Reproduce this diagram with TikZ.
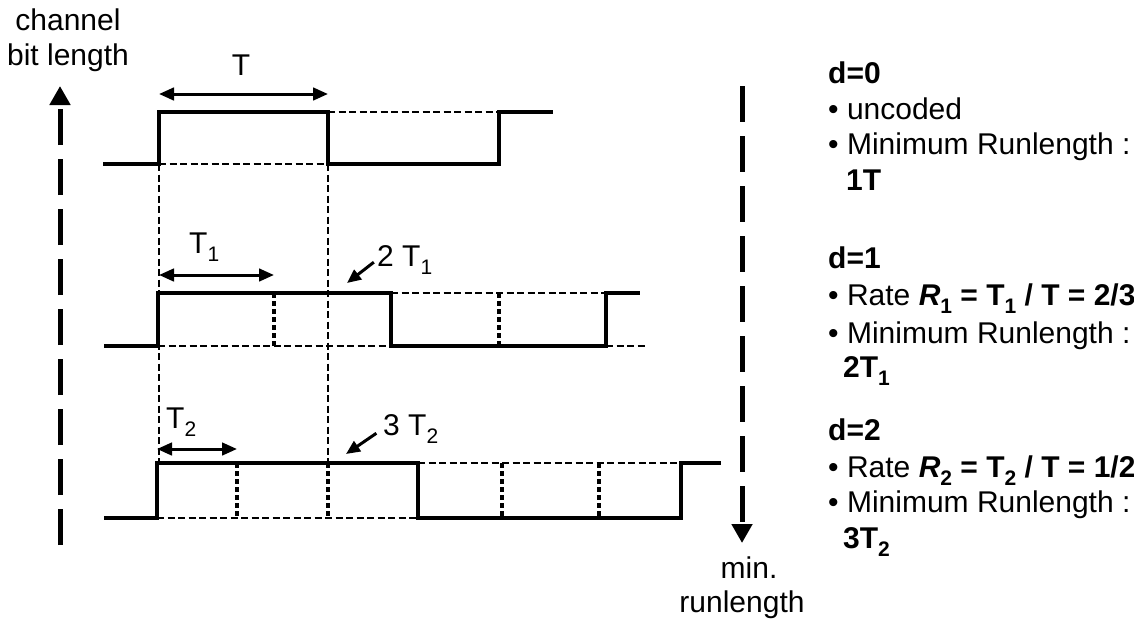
\documentclass[tikz,border=0pt]{standalone}
\usepackage{fontspec}
\setmainfont{Liberation Sans}
\usetikzlibrary{arrows.meta}
\newcommand\lowix[1]{\raisebox{-0.28em}{\fontsize{21}{21}\selectfont #1}}
\begin{document}
\begin{tikzpicture}[x=1pt,y=-1pt,
 every node/.style={inner sep=0pt, font=\fontsize{30}{34}\selectfont},
 wave/.style={line width=4.5pt, line join=miter},
 guide/.style={line width=1.8pt, dash pattern=on 7pt off 3.5pt},
 slot/.style={line width=4.5pt, dash pattern=on 5pt off 3pt},
 span/.style={line width=3pt, {Triangle[length=15pt,width=12.5pt]}-{Triangle[length=15pt,width=12.5pt]}},
 pointer/.style={line width=3pt, -{Triangle[length=14pt,width=12pt]}},
 axis/.style={line width=5pt, dash pattern=on 36pt off 14pt, -{Triangle[length=19pt,width=20pt]}},
 lbl/.style={anchor=base west},
 ctr/.style={anchor=base}]
\useasboundingbox (0,0) rectangle (1134,624);

% axes
\coordinate (la0) at (60,545); \coordinate (la1) at (60,86);
\draw[axis] (la0) -- (la1);
\coordinate (ra0) at (742,86); \coordinate (ra1) at (742,543);
\draw[axis] (ra0) -- (ra1);

\node[ctr] (chan1) at (68,30) {channel};
\node[ctr] (chan2) at (68,65) {bit length};
\node[ctr] (minr1) at (749,578) {min.};
\node[ctr] (minr2) at (742,612) {runlength};

% guide lines
\draw[guide] (159,164) -- (328,164);
\draw[guide] (328,112) -- (499,112);
\draw[guide] (159,164) -- (159,463);
\draw[guide] (328,164) -- (328,463);
\draw[guide] (158,346) -- (391,346);
\draw[guide] (391,293) -- (606,293);
\draw[guide] (606,346) -- (645,346);
\draw[guide] (157,518) -- (418,518);
\draw[guide] (418,463) -- (681,463);

% slot separators
\foreach \x in {274,499} \draw[slot] (\x,293) -- (\x,346);
\foreach \x in {237,328,502,599} \draw[slot] (\x,463) -- (\x,518);

% waveforms
\draw[wave] (103,164) -- (159,164) -- (159,112) -- (328,112) -- (328,164) -- (499,164) -- (499,112) -- (553,112);
\draw[wave] (104,346) -- (158,346) -- (158,293) -- (391,293) -- (391,346) -- (606,346) -- (606,293) -- (640,293);
\draw[wave] (104,518) -- (157,518) -- (157,463) -- (418,463) -- (418,518) -- (681,518) -- (681,463) -- (721,463);

% spans
\coordinate (ta) at (159,94); \coordinate (tb) at (328,94);
\draw[span] (ta) -- (tb);
\node[ctr] (tlab) at (241,75) {T};
\coordinate (t1a) at (159,275); \coordinate (t1b) at (274,275);
\draw[span] (t1a) -- (t1b);
\node[lbl] (t1lab) at (189,253) {T\lowix{1}};
\coordinate (t2a) at (157,449); \coordinate (t2b) at (237,449);
\draw[span] (t2a) -- (t2b);
\node[lbl] (t2lab) at (166,428) {T\lowix{2}};

% pointers
\node[lbl] (twot1) at (377,266) {2 T\lowix{1}};
\coordinate (p1) at (347,283);
\draw[pointer, shorten <=4pt] (twot1.west) -- (p1);
\node[lbl] (threet2) at (383,435) {3 T\lowix{2}};
\coordinate (p2) at (346,454);
\draw[pointer, shorten <=8pt] (threet2.west) -- (p2);

% right text
\node[lbl] (d0) at (828,83) {\textbf{d=0}};
\node[lbl] (d0a) at (828,119) {• uncoded};
\node[lbl] (d0b) at (828,154) {• Minimum Runlength :};
\node[lbl] (d0c) at (846,190) {\textbf{1T}};

\node[lbl] (d1) at (828,268) {\textbf{d=1}};
\node[lbl] (d1a) at (828,305) {• Rate \textbf{\textit{R}\lowix{1} = T\lowix{1} / T = 2/3}};
\node[lbl] (d1b) at (828,343) {• Minimum Runlength :};
\node[lbl] (d1c) at (843,377) {\textbf{2T\lowix{1}}};

\node[lbl] (d2) at (828,440) {\textbf{d=2}};
\node[lbl] (d2a) at (828,477) {• Rate \textbf{\textit{R}\lowix{2} = T\lowix{2} / T = 1/2}};
\node[lbl] (d2b) at (828,512) {• Minimum Runlength :};
\node[lbl] (d2c) at (843,548) {\textbf{3T\lowix{2}}};
\end{tikzpicture}
\end{document}
